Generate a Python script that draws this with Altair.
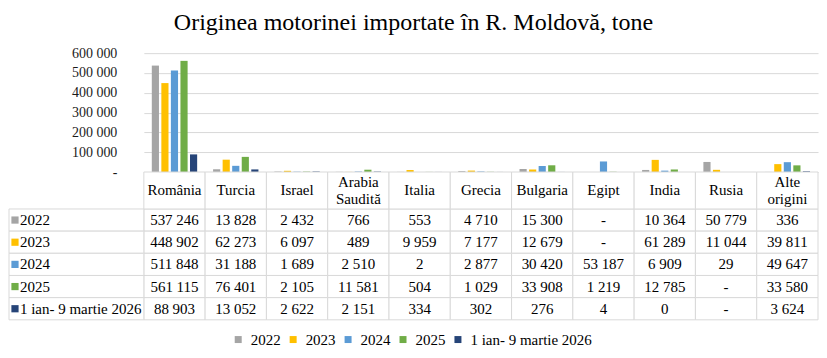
import altair as alt
import pandas as pd

# ---- data ----
countries = ["România", "Turcia", "Israel", "Arabia Saudită", "Italia", "Grecia",
             "Bulgaria", "Egipt", "India", "Rusia", "Alte origini"]
headers = ["România", "Turcia", "Israel", "Arabia\nSaudită", "Italia", "Grecia",
           "Bulgaria", "Egipt", "India", "Rusia", "Alte\norigini"]
series = ["2022", "2023", "2024", "2025", "1 ian- 9 martie 2026"]
colors = ["#A5A5A5", "#FFC000", "#5B9BD5", "#70AD47", "#264478"]

v2022 = [537246, 13828, 2432, 766, 553, 4710, 15300, None, 10364, 50779, 336]
v2023 = [448902, 62273, 6097, 489, 9959, 7177, 12679, None, 61289, 11044, 39811]
v2024 = [511848, 31188, 1689, 2510, 2, 2877, 30420, 53187, 6909, 29, 49647]
v2025 = [561115, 76401, 2105, 11581, 504, 1029, 33908, 1219, 12785, None, 33580]
v2026 = [88903, 13052, 2622, 2151, 334, 302, 276, 4, 0, None, 3624]
values = [v2022, v2023, v2024, v2025, v2026]

y_ticks = [0, 100000, 200000, 300000, 400000, 500000, 600000]

# ---- layout constants ----
FONT = "Liberation Serif"
GRID = "#D9D9D9"
PLOT_W = 675
COL_PX = PLOT_W / len(countries)
LABEL_COL = 135 / COL_PX          # width of row-label column, in column units
HEADER = 37 / 22.2                # header height, in row units

def fmt(v):
    if v is None:
        return "-"
    return f"{v:,}".replace(",", " ")

bar_rows, cell_rows = [], []
for si, (s, vals) in enumerate(zip(series, values)):
    for ci, (c, v) in enumerate(zip(countries, vals)):
        bar_rows.append({"country": c, "series": s, "value": v})
        cell_rows.append({"col": ci, "row": si + 1, "text": fmt(v), "series": s})
for ci, h in enumerate(headers):
    cell_rows.append({"col": ci, "row": 0, "text": h, "series": ""})
bars_df = pd.DataFrame(bar_rows)
cells_df = pd.DataFrame(cell_rows)
labels_df = pd.DataFrame({"series": series, "row": list(range(1, len(series) + 1))})

color_scale = alt.Scale(domain=series, range=colors)

bars = alt.Chart(bars_df).transform_filter("datum.value != null").mark_bar().encode(
    x=alt.X("country:N", sort=countries, axis=None,
            scale=alt.Scale(paddingInner=0.26, paddingOuter=0.13)),
    xOffset=alt.XOffset("series:N", sort=series, scale=alt.Scale(paddingInner=0.25)),
    y=alt.Y("value:Q", title=None,
            scale=alt.Scale(domain=[0, 600000], nice=False),
            axis=alt.Axis(values=y_ticks, ticks=False, domain=False, grid=True,
                          gridColor=GRID, labelFont=FONT, labelFontSize=14,
                          labelColor="#1a1a1a", labelPadding=27,
                          labelExpr="datum.value == 0 ? '-' : replace(format(datum.value, ','), ',', ' ')")),
    color=alt.Color("series:N", sort=series, scale=color_scale,
                    legend=alt.Legend(title=None, orient="none", direction="horizontal",
                                      legendX=87, legendY=279, symbolType="square",
                                      symbolSize=49, symbolStrokeWidth=0,
                                      labelFont=FONT, labelFontSize=15, labelColor="#000",
                                      labelOffset=5, columnPadding=5)),
).properties(width=PLOT_W, height=119)

xs = alt.Scale(domain=[0, len(countries)], nice=False, zero=False)
ys = alt.Scale(domain=[0, HEADER + len(series)], nice=False, zero=False, reverse=True)

base = alt.Chart(cells_df).transform_calculate(
    x0="datum.col", x1="datum.col + 1", xc="datum.col + 0.5",
    y0=f"datum.row == 0 ? 0 : {HEADER} + datum.row - 1",
    y1=f"datum.row == 0 ? {HEADER} : {HEADER} + datum.row",
    multi="indexof(datum.text, '\\n') >= 0",
)
base = base.transform_calculate(yc="(datum.y0 + datum.y1) / 2")

cells = base.mark_rect(fill="white", stroke=GRID, strokeWidth=1).encode(
    x=alt.X("x0:Q", scale=xs, axis=None), x2="x1:Q",
    y=alt.Y("y0:Q", scale=ys, axis=None), y2="y1:Q",
)
text_enc = dict(
    x=alt.X("xc:Q", scale=xs, axis=None),
    y=alt.Y("yc:Q", scale=ys, axis=None),
    text="text:N",
)
texts = base.transform_filter("!datum.multi").mark_text(
    font=FONT, fontSize=15, color="#000", baseline="middle").encode(**text_enc)
texts2 = base.transform_filter("datum.multi").mark_text(
    font=FONT, fontSize=15, color="#000", baseline="middle",
    lineBreak="\n", lineHeight=17, dy=-8.5).encode(**text_enc)

lab_base = alt.Chart(labels_df).transform_calculate(
    x0=f"-{LABEL_COL}", x1="0",
    y0=f"{HEADER} + datum.row - 1", y1=f"{HEADER} + datum.row",
    yc=f"{HEADER} + datum.row - 0.5",
)
lab_cells = lab_base.mark_rect(fill="white", stroke=GRID, strokeWidth=1).encode(
    x=alt.X("x0:Q", scale=xs, axis=None), x2="x1:Q",
    y=alt.Y("y0:Q", scale=ys, axis=None), y2="y1:Q",
)
swatches = lab_base.mark_square(size=52, filled=True, opacity=1, xOffset=6).encode(
    x=alt.X("x0:Q", scale=xs, axis=None),
    y=alt.Y("yc:Q", scale=ys, axis=None),
    color=alt.Color("series:N", sort=series, scale=color_scale, legend=None),
)
lab_texts = lab_base.mark_text(font=FONT, fontSize=15, color="#000", align="left",
                               baseline="middle", dx=11).encode(
    x=alt.X("x0:Q", scale=xs, axis=None),
    y=alt.Y("yc:Q", scale=ys, axis=None),
    text="series:N",
)

table = alt.layer(cells, lab_cells, texts, texts2, swatches, lab_texts).properties(
    width=PLOT_W, height=148)

chart = alt.vconcat(bars, table, spacing=0, bounds="flush").properties(
    title=alt.Title("Originea motorinei importate în R. Moldovă, tone", font=FONT,
                    fontSize=24, fontWeight="normal", color="#000", anchor="middle",
                    offset=11),
    padding={"left": 0, "top": 3, "right": 0, "bottom": 0},
).configure_view(stroke=None)

chart.save("out.html", embed_options={"renderer": "svg", "actions": False})
